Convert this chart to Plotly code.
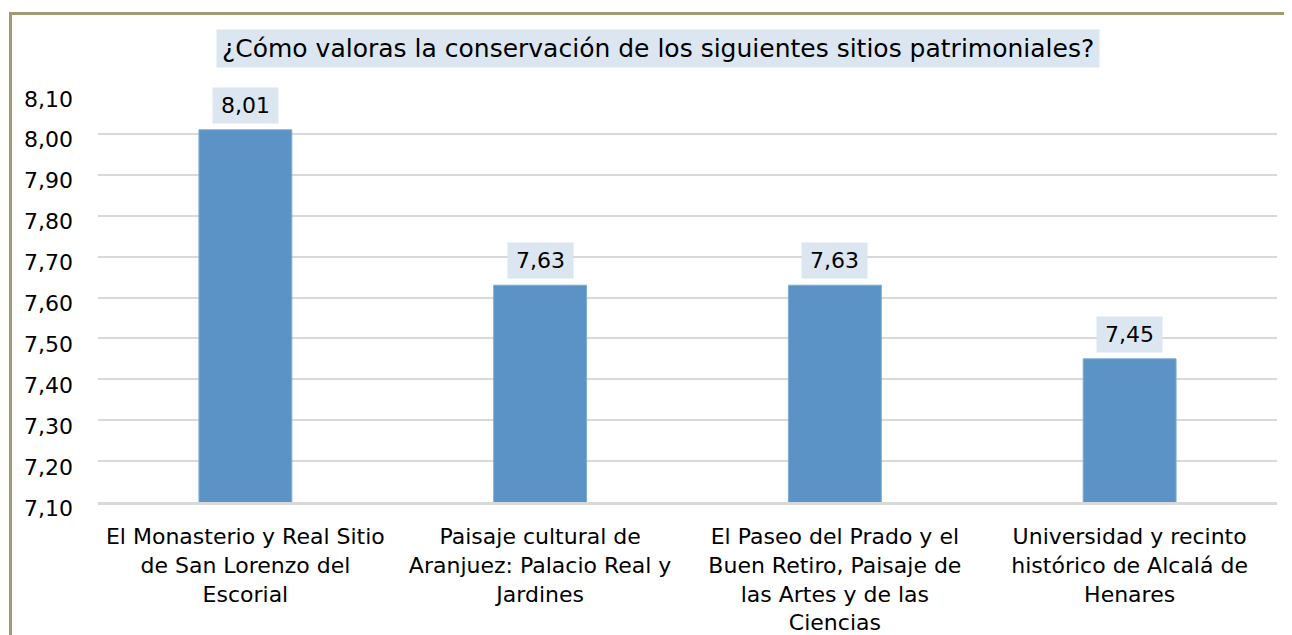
import plotly.graph_objects as go

categories = [
    "El Monasterio y Real Sitio<br>de San Lorenzo del<br>Escorial",
    "Paisaje cultural de<br>Aranjuez: Palacio Real y<br>Jardines",
    "El Paseo del Prado y el<br>Buen Retiro, Paisaje de<br>las Artes y de las<br>Ciencias",
    "Universidad y recinto<br>histórico de Alcalá de<br>Henares",
]
values = [8.01, 7.63, 7.63, 7.45]
tick_vals = [7.10, 7.20, 7.30, 7.40, 7.50, 7.60, 7.70, 7.80, 7.90, 8.00, 8.10]
tick_text = ["7,10", "7,20", "7,30", "7,40", "7,50", "7,60", "7,70", "7,80", "7,90", "8,00", "8,10"]
title_text = "¿Cómo valoras la conservación de los siguientes sitios patrimoniales?"

FONT = "DejaVu Sans"
OFF = 8  # page body margin
W, H = 1292 - OFF, 635 - OFF
# target screen positions of plot area
left_s, right_s, top_s, bot_s = 98, 1277, 93, 502
ml = left_s - OFF
mt = top_s - OFF
mr = W - (right_s - OFF)
mb = H - (bot_s - OFF)
pw, ph = W - ml - mr, H - mt - mb

def px_x(s):
    return (s - OFF - ml) / pw

def px_y(s):
    return 1 + (mt - (s - OFF)) / ph

fig = go.Figure()
fig.add_trace(go.Bar(
    x=categories, y=values,
    marker=dict(color="#5B93C6", line=dict(color="#7EA9D3", width=1)),
    width=0.315,
))

annotations = []
for c, v in zip(categories, values):
    annotations.append(dict(
        x=c, y=v, xref="x", yref="y",
        text=f"{v:.2f}".replace(".", ","),
        showarrow=False, yanchor="bottom", yshift=6,
        bgcolor="#DCE6F1", borderpad=5, width=55, height=25,
        font=dict(family=FONT, size=22, color="#000000"),
    ))
for tv, tt in zip(tick_vals, tick_text):
    annotations.append(dict(
        x=0, y=tv, xref="paper", yref="y",
        text=tt, showarrow=False, xanchor="right", yanchor="middle",
        xshift=-23, yshift=-6,
        font=dict(family=FONT, size=22, color="#000000"),
    ))
annotations.append(dict(
    x=px_x(657.5), y=px_y(48.5), xref="paper", yref="paper",
    text=title_text, showarrow=False, xanchor="center", yanchor="middle",
    bgcolor="#DCE6F1", borderpad=5, height=27,
    font=dict(family=FONT, size=25, color="#000000"),
))

fig.update_layout(
    width=W, height=H,
    margin=dict(l=ml, r=mr, t=mt, b=mb, pad=0, autoexpand=False),
    paper_bgcolor="white", plot_bgcolor="white",
    showlegend=False,
    annotations=annotations,
    font=dict(family=FONT, size=22, color="#000000"),
    shapes=[
        dict(type="rect", xref="paper", yref="paper",
             x0=px_x(10.5), x1=px_x(1400), y0=px_y(800), y1=px_y(13.5),
             line=dict(color="#A09B74", width=3), fillcolor="rgba(0,0,0,0)",
             layer="above"),
    ],
)
fig.update_yaxes(
    range=[7.10, 8.10], tickvals=tick_vals,
    showgrid=True, gridcolor="#D9D9D9", gridwidth=2,
    zeroline=False, showline=False, ticks="",
    showticklabels=False, automargin=False,
)
fig.update_xaxes(
    showline=True, linecolor="#D9D9D9", linewidth=3,
    ticks="", ticklabelstandoff=13, tickangle=0, automargin=False,
    tickfont=dict(family=FONT, size=22, color="#000000"),
)

fig.write_html("out.html")
